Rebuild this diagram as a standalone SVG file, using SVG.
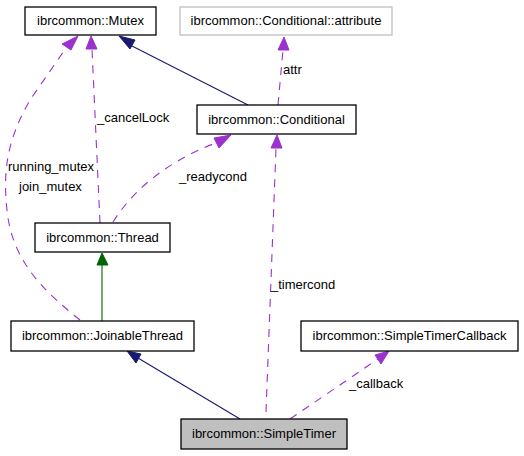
<svg xmlns="http://www.w3.org/2000/svg" width="524" height="456" viewBox="0 0 524 456">
<style>
text{font-family:"Liberation Sans",Arial,sans-serif;font-size:13px;fill:#000}
.node rect{fill:#fff;stroke:#000;stroke-width:1.3}
.node text{text-anchor:middle}
.e{fill:none;stroke-width:1.1}
.navy{stroke:#191970}
.green{stroke:#006400}
.purple{stroke:#9a32cd;stroke-dasharray:8,7}
.hn{fill:#191970;stroke:#191970}
.hg{fill:#006400;stroke:#006400}
.hp{fill:#9a32cd;stroke:#9a32cd}
</style>
<rect width="524" height="456" fill="#fff"/>
<g id="connectors">
  <!-- Conditional -> Mutex -->
  <path class="e navy" d="M248,105 L132,46"/>
  <polygon class="hn" points="119,36 135,40 130,49"/>
  <!-- Conditional -> attribute -->
  <path class="e purple" d="M278,105 L283,50"/>
  <polygon class="hp" points="284,37 289,50 278,50"/>
  <text x="283" y="74">attr</text>
  <!-- Thread -> Mutex (_cancelLock) -->
  <path class="e purple" d="M100,223 L92,49"/>
  <polygon class="hp" points="91,36 97,49 86,49"/>
  <text x="97" y="122">_cancelLock</text>
  <!-- Thread -> Conditional (_readycond) -->
  <path class="e purple" d="M113,222 C130,195 160,165 213,144"/>
  <polygon class="hp" points="231,135 219,148 214,138"/>
  <text x="179" y="181">_readycond</text>
  <!-- JoinableThread -> Mutex -->
  <path class="e purple" d="M80,320 C45,292 12,262 7,210 C2,165 10,135 30,100 L66,48"/>
  <polygon class="hp" points="78,36 71,50 62,44"/>
  <text x="8" y="171">running_mutex</text>
  <text x="19" y="191">join_mutex</text>
  <!-- JoinableThread -> Thread -->
  <path class="e green" d="M102,321 L102,265"/>
  <polygon class="hg" points="102,253 108,265 97,265"/>
  <!-- SimpleTimer -> JoinableThread -->
  <path class="e navy" d="M240,419 L138,358"/>
  <polygon class="hn" points="127,351 141,354 136,363"/>
  <!-- SimpleTimer -> Conditional (_timercond) -->
  <path class="e purple" d="M266,412 L276,148"/>
  <polygon class="hp" points="277,135 282,148 271,148"/>
  <text x="271" y="289">_timercond</text>
  <!-- SimpleTimer -> SimpleTimerCallback (_callback) -->
  <path class="e purple" d="M290,419 L378,359"/>
  <polygon class="hp" points="389,351 381,364 375,355"/>
  <text x="349" y="388">_callback</text>
</g>
<g id="node-mutex" class="node">
  <rect x="25" y="7" width="131" height="28"/>
  <text x="90.5" y="25">ibrcommon::Mutex</text>
</g>
<g id="node-attribute" class="node">
  <rect x="180" y="7" width="212" height="28" style="stroke:#bfbfbf"/>
  <text x="286" y="25">ibrcommon::Conditional::attribute</text>
</g>
<g id="node-conditional" class="node">
  <rect x="197" y="105" width="159" height="29"/>
  <text x="276.5" y="124">ibrcommon::Conditional</text>
</g>
<g id="node-thread" class="node">
  <rect x="35" y="223" width="135" height="29"/>
  <text x="102.5" y="242">ibrcommon::Thread</text>
</g>
<g id="node-joinablethread" class="node">
  <rect x="11" y="321" width="183" height="30"/>
  <text x="102.5" y="340">ibrcommon::JoinableThread</text>
</g>
<g id="node-simpletimercallback" class="node">
  <rect x="301" y="321" width="217" height="30"/>
  <text x="409.5" y="340">ibrcommon::SimpleTimerCallback</text>
</g>
<g id="node-simpletimer" class="node">
  <rect x="181" y="419" width="166" height="30" style="fill:#bfbfbf"/>
  <text x="264" y="438">ibrcommon::SimpleTimer</text>
</g>
</svg>
